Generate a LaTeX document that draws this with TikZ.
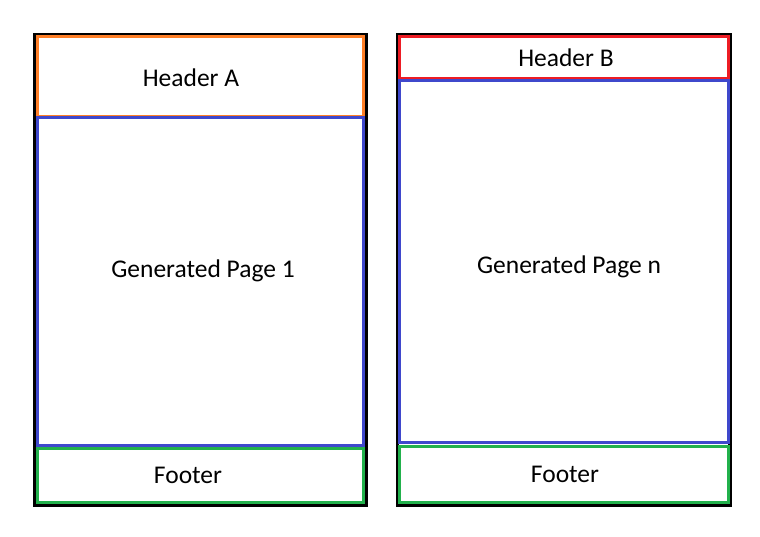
\documentclass[tikz,border=0pt]{standalone}
\usepackage{fontspec}
\setmainfont{Carlito}
\definecolor{hdrorange}{HTML}{FF7F27}
\definecolor{hdrred}{HTML}{ED1C24}
\definecolor{bodyblue}{HTML}{3F48CC}
\definecolor{footgreen}{HTML}{22B14C}

\begin{document}
\begin{tikzpicture}[x=1pt, y=-1pt,
    every node/.style={font=\fontsize{25.5}{28}\selectfont},
    sheet/.style={draw=black, line width=3.5pt, inner sep=0pt},
    part/.style={line width=3pt, inner sep=0pt, minimum width=326pt}]
  \useasboundingbox (0,0) rectangle (760,537);

  % premiere page : en-tete A
  \node[sheet, minimum width=331.5pt, minimum height=470.5pt] (pageA) at (200.25,269.75) {};
  \node[part, draw=hdrorange, minimum height=80pt,
        label={[xshift=-9pt, yshift=-1pt]center:Header A}] (hdrA) at (200,77) {};
  \node[part, draw=bodyblue, minimum height=327pt,
        label={[xshift=3pt, yshift=11pt]center:Generated Page 1}] (bodyA) at (200,281.5) {};
  \node[part, draw=footgreen, minimum height=54pt,
        label={[xshift=-12pt]center:Footer}] (footA) at (200,475) {};

  % pages suivantes : en-tete B, plus court
  \node[sheet, minimum width=332.5pt, minimum height=470.5pt] (pageB) at (563.75,269.75) {};
  \node[part, draw=hdrred, minimum width=329pt, minimum height=42.5pt,
        label={[xshift=2pt]center:Header B}] (hdrB) at (564,57.75) {};
  \node[part, draw=bodyblue, minimum width=329pt, minimum height=361pt,
        label={[xshift=5pt, yshift=-5pt]center:Generated Page n}] (bodyB) at (564,261.5) {};
  \node[part, draw=footgreen, minimum width=329pt, minimum height=56pt,
        label={[xshift=1pt]center:Footer}] (footB) at (564,474) {};
\end{tikzpicture}
\end{document}
